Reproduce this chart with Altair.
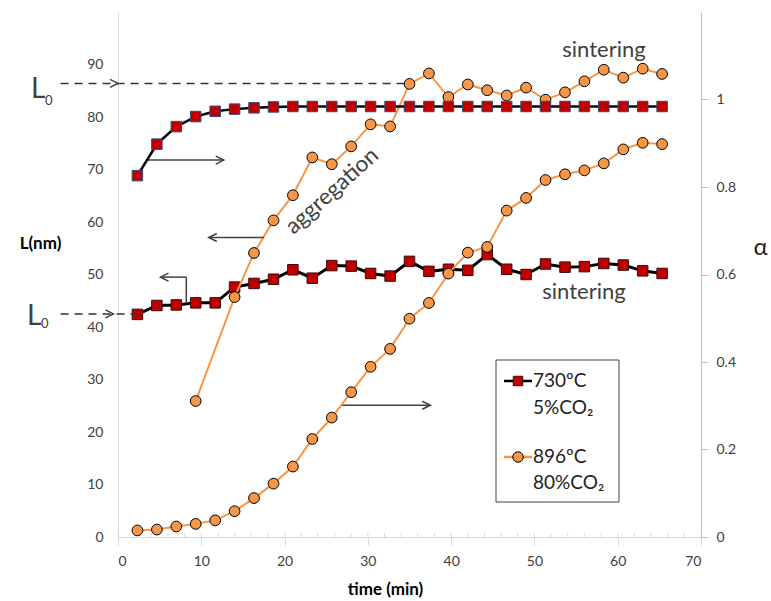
import altair as alt
import pandas as pd

# Sampling times (min), one sample every 140 s
time_min = [2.33, 4.67, 7.0, 9.33, 11.67, 14.0, 16.33, 18.67, 21.0, 23.33,
            25.67, 28.0, 30.33, 32.67, 35.0, 37.33, 39.67, 42.0, 44.33, 46.67,
            49.0, 51.33, 53.67, 56.0, 58.33, 60.67, 63.0, 65.33]

# 730ºC, 5% CO2: conversion (right axis) and crystallite size L (left axis)
alpha_730 = [0.826, 0.898, 0.938, 0.961, 0.973, 0.978, 0.981, 0.983, 0.984, 0.984,
             0.984, 0.984, 0.984, 0.984, 0.984, 0.984, 0.984, 0.984, 0.984, 0.984,
             0.984, 0.984, 0.984, 0.984, 0.984, 0.984, 0.984, 0.984]
size_730 = [42.4, 44.1, 44.2, 44.6, 44.6, 47.6, 48.3, 49.1, 50.9, 49.3,
            51.7, 51.6, 50.2, 49.7, 52.5, 50.6, 51.0, 50.8, 53.8, 51.0,
            50.0, 52.0, 51.4, 51.5, 52.1, 51.8, 50.7, 50.2]

# 896ºC, 80% CO2
alpha_896 = [0.015, 0.017, 0.024, 0.030, 0.038, 0.059, 0.089, 0.122, 0.161, 0.224,
             0.273, 0.331, 0.389, 0.430, 0.499, 0.535, 0.602, 0.650, 0.663, 0.746,
             0.775, 0.816, 0.829, 0.838, 0.854, 0.886, 0.901, 0.898]
time_896_size = [9.33, 14.0, 16.33, 18.67, 21.0, 23.33, 25.67, 28.0, 30.33, 32.67,
                 35.0, 37.33, 39.67, 42.0, 44.33, 46.67, 49.0, 51.33, 53.67, 56.0,
                 58.33, 60.67, 63.0, 65.33]
size_896 = [25.9, 45.7, 54.1, 60.3, 65.1, 72.3, 71.0, 74.4, 78.6, 78.2,
            86.3, 88.3, 83.8, 86.2, 85.1, 84.1, 85.6, 83.3, 84.7, 86.8,
            89.0, 87.5, 89.2, 88.2]

# Initial sizes L0 of both runs
l0_sizes = [86.4, 42.5]
l0_t_start = [-6.9, -6.9]
l0_t_end = [34.6, 2.33]

# Axis-pointing arrows (time, L) segments
arrow_t0 = [3.5, 17.5, 8.2, 8.2, 26.8]
arrow_t1 = [12.7, 10.9, 8.2, 5.1, 37.5]
arrow_L0 = [71.8, 57.05, 44.6, 49.5, 25.1]
arrow_L1 = [71.8, 57.05, 49.5, 49.5, 25.1]
head_right_t = [12.7, 37.5, 0.0, -0.55]
head_right_L = [71.8, 25.1, 86.4, 42.5]
head_left_t = [10.9, 5.1]
head_left_L = [57.05, 49.5]

x_ticks = [0, 10, 20, 30, 40, 50, 60, 70]
minor_ticks = [0, 2, 4, 6, 8, 10, 12, 14, 16, 18, 20, 22, 24, 26, 28, 30, 32, 34,
               36, 38, 40, 42, 44, 46, 48, 50, 52, 54, 56, 58, 60, 62, 64, 66, 68, 70]
left_ticks = [0, 10, 20, 30, 40, 50, 60, 70, 80, 90]
right_ticks = [0, 0.2, 0.4, 0.6, 0.8, 1]

W, H = 583, 525
FONT = "Lato"
INK = "#404040"
RED = "#c00000"
ORANGE = "#f79646"

x_scale = alt.Scale(domain=[0, 70], nice=False)
x_axis = alt.Axis(values=x_ticks, tickSize=8, tickColor="#d9d9d9", domainColor="#d9d9d9",
                  labelFont=FONT, labelFontSize=14, labelColor=INK, labelPadding=9,
                  grid=False, title="time (min)", titleFont=FONT, titleFontSize=17,
                  titleFontWeight="bold", titleColor="black", titleX=267, titleY=52,
                  titleAlign="center", titleBaseline="middle")
l_scale = alt.Scale(domain=[0, 100], nice=False)
l_axis = alt.Axis(values=left_ticks, tickSize=0, domainColor="#d9d9d9", labelFont=FONT,
                  labelFontSize=14, labelColor=INK, labelPadding=15, grid=False,
                  title="L(nm)", titleAngle=0, titleX=-78, titleY=231, titleAlign="center",
                  titleBaseline="middle", titleFont=FONT, titleFontSize=17,
                  titleFontWeight="bold", titleColor="black")
a_scale = alt.Scale(domain=[0, 1.2], nice=False)
a_axis = alt.Axis(orient="right", values=right_ticks, format="~g", tickSize=7,
                  tickColor="#bfbfbf", domainColor="#bfbfbf", labelFont=FONT,
                  labelFontSize=14, labelColor=INK, labelPadding=8, grid=False,
                  title="α", titleAngle=0, titleX=59, titleY=235, titleAlign="center",
                  titleBaseline="middle", titleFont="Lato, DejaVu Sans", titleFontSize=24,
                  titleFontWeight="normal", titleColor="#222222")


def X(field):
    return alt.X(f"{field}:Q", scale=x_scale, axis=x_axis)


def YL(field):
    return alt.Y(f"{field}:Q", scale=l_scale, axis=l_axis)


def YA(field):
    return alt.Y(f"{field}:Q", scale=a_scale, axis=a_axis)


def series(df, yfun, line_color, line_width, shape, fill, stroke, size):
    line = alt.Chart(df).mark_line(color=line_color, strokeWidth=line_width).encode(
        x=X("t"), y=yfun("v"))
    pts = alt.Chart(df).mark_point(shape=shape, filled=True, fill=fill, stroke=stroke,
                                   strokeWidth=1, size=size, opacity=1).encode(
        x=X("t"), y=yfun("v"))
    return [line, pts]


one = pd.DataFrame({"k": [0]})


def label(text, x, y, size, color=INK, align="left", baseline="alphabetic", angle=0,
          font=FONT):
    return alt.Chart(one).mark_text(text=text, font=font, fontSize=size, color=color,
                                    align=align, baseline=baseline, angle=angle).encode(
        x=alt.value(x), y=alt.value(y))


size730_df = pd.DataFrame({"t": time_min, "v": size_730})
size896_df = pd.DataFrame({"t": time_896_size, "v": size_896})
alpha730_df = pd.DataFrame({"t": time_min, "v": alpha_730})
alpha896_df = pd.DataFrame({"t": time_min, "v": alpha_896})

minor = alt.Chart(pd.DataFrame({"t": minor_ticks})).mark_rule(
    color="#d9d9d9", strokeWidth=1).encode(x=X("t"), y=alt.value(H - 4), y2=alt.value(H))

l0_df = pd.DataFrame({"t0": l0_t_start, "t1": l0_t_end, "L": l0_sizes})
l0_lines = alt.Chart(l0_df).mark_rule(color="#333333", strokeWidth=1.5,
                                      strokeDash=[8, 6]).encode(
    x=X("t0"), x2="t1", y=YL("L"))

arrow_df = pd.DataFrame({"t0": arrow_t0, "t1": arrow_t1, "L0": arrow_L0, "L1": arrow_L1})
arrows = alt.Chart(arrow_df).mark_rule(color=INK, strokeWidth=1.5).encode(
    x=X("t0"), x2="t1", y=YL("L0"), y2="L1")
heads_r = alt.Chart(pd.DataFrame({"t": head_right_t, "L": head_right_L})).mark_point(
    shape="M-2,-1L0,0L-2,1", filled=False, stroke=INK, strokeWidth=1.5, size=64,
    opacity=1).encode(x=X("t"), y=YL("L"))
heads_l = alt.Chart(pd.DataFrame({"t": head_left_t, "L": head_left_L})).mark_point(
    shape="M2,-1L0,0L2,1", filled=False, stroke=INK, strokeWidth=1.5, size=64,
    opacity=1).encode(x=X("t"), y=YL("L"))

texts = [
    label("L", -87, 86, 28),
    label("0", -73, 93, 13),
    label("L", -91, 313, 28),
    label("0", -77, 316, 13),
    label("aggregation", 214, 179, 22.5, align="center", baseline="middle", angle=318),
    label("sintering", 486, 38, 22, align="center", baseline="middle"),
    label("sintering", 466, 280, 22, align="center", baseline="middle"),
]

legend_box = alt.Chart(one).mark_rect(fill="white", stroke=INK, strokeWidth=1).encode(
    x=alt.value(378), x2=alt.value(501), y=alt.value(348), y2=alt.value(490))
legend = [
    legend_box,
    alt.Chart(one).mark_rule(color="black", strokeWidth=2.5).encode(
        x=alt.value(386), x2=alt.value(414), y=alt.value(369)),
    alt.Chart(one).mark_point(shape="square", filled=True, fill=RED, stroke="#3a0a0a",
                              strokeWidth=1, size=90, opacity=1).encode(
        x=alt.value(400), y=alt.value(369)),
    label("730ºC", 415, 369, 19, color="#222222", baseline="middle"),
    label("5%CO₂", 415, 396, 19, color="#222222", baseline="middle"),
    alt.Chart(one).mark_rule(color=ORANGE, strokeWidth=2.5).encode(
        x=alt.value(386), x2=alt.value(414), y=alt.value(445)),
    alt.Chart(one).mark_point(shape="circle", filled=True, fill=ORANGE, stroke="black",
                              strokeWidth=1, size=110, opacity=1).encode(
        x=alt.value(400), y=alt.value(445)),
    label("896ºC", 415, 445, 19, color="#222222", baseline="middle"),
    label("80%CO₂", 415, 471, 19, color="#222222", baseline="middle"),
]

left = alt.layer(
    *series(size730_df, YL, "black", 3, "square", RED, "#3a0a0a", 110),
    *series(size896_df, YL, ORANGE, 2, "circle", ORANGE, "black", 115),
    l0_lines, arrows, heads_r, heads_l, minor, *texts, *legend,
)
right = alt.layer(
    *series(alpha730_df, YA, "black", 2.5, "square", RED, "#2e4a7a", 110),
    *series(alpha896_df, YA, ORANGE, 2, "circle", ORANGE, "black", 115),
)

chart = alt.layer(left, right).resolve_scale(y="independent").properties(
    width=W, height=H,
    autosize=alt.AutoSizeParams(type="none"),
    padding={"left": 118, "top": 12, "right": 70, "bottom": 64},
).configure_view(stroke="transparent")

chart.save("out.html", embed_options={"renderer": "svg", "actions": False})
